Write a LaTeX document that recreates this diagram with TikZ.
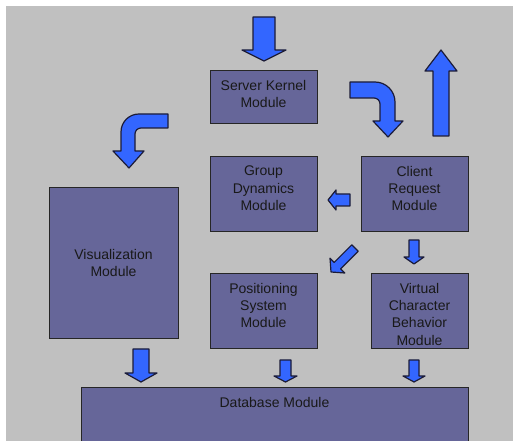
\documentclass[tikz,border=0pt]{standalone}
\usepackage{fontspec}
\setmainfont{Liberation Sans}
\usetikzlibrary{fit}
\definecolor{panel}{RGB}{192,192,192}
\definecolor{modfill}{RGB}{102,102,153}
\definecolor{arrowfill}{RGB}{51,102,255}
\definecolor{arrowline}{RGB}{28,28,56}
\tikzset{
  module/.style={draw=black!85, fill=modfill, line width=0.75pt, inner sep=0pt},
  caption/.style={anchor=north, align=center, inner sep=0pt, yshift=-7pt,
    text=black!90, font=\fontsize{10.5}{13}\selectfont},
  blockarrow/.style={fill=arrowfill, draw=arrowline, line width=0.9pt, line join=round}
}
\begin{document}
\begin{tikzpicture}[x=0.75pt, y=-0.75pt]
      \useasboundingbox (0,0) rectangle (514,441);
      \clip (0,0) rectangle (514,441);
      \fill[panel] (6,6) rectangle (513,441);
      % modules
      \node[module, fit={(210,71) (317,124)}, label={[caption]north:Server Kernel\\Module}] (kernel) {};
      \node[module, fit={(210,157) (317,232)}, label={[caption]north:Group\\Dynamics\\Module}] (group) {};
      \node[module, fit={(361,157) (468,232)}, label={[caption]north:Client\\Request\\Module}] (client) {};
      \node[module, fit={(49,188) (178,339)}, label={[caption, yshift=-39pt]north:Visualization\\Module}] (visual) {};
      \node[module, fit={(210,274) (317,349)}, label={[caption]north:Positioning\\System\\Module}] (position) {};
      \node[module, fit={(371,274) (468,349)}, label={[caption]north:Virtual\\Character\\Behavior\\Module}] (behavior) {};
      \node[module, fit={(81,388) (468,470)}, label={[caption]north:Database Module}] (database) {};
      % arrows
      \begin{scope}[blockarrow]
        \filldraw (253,17) -- (275,17) -- (275,50) -- (286,50) -- (264,61) -- (242,50) -- (253,50) -- cycle;
        \filldraw (433,136) -- (433,71) -- (425,71) -- (441,50) -- (457,71) -- (449,71) -- (449,136) -- cycle;
        \filldraw (350,82) -- (375,82) .. controls (386,82) and (395,91) .. (395,102) -- (395,121)
          -- (403,121) -- (388,137) -- (373,121) -- (380,121) -- (380,104)
          .. controls (380,100.7) and (377.3,98) .. (374,98) -- (350,98) -- cycle;
        \filldraw (168,114) -- (139,114) .. controls (129,114) and (121,122) .. (121,132) -- (121,151)
          -- (113,151) -- (129,168) -- (144,151) -- (135,151) -- (135,134)
          .. controls (135,130.7) and (137.7,128) .. (141,128) -- (168,128) -- cycle;
        \filldraw (350,194) -- (336,194) -- (336,190) -- (328,200) -- (336,210) -- (336,206) -- (350,206) -- cycle;
        \filldraw (351.8,244.8) -- (334.2,262.4) -- (330,258.2) -- (331,272) -- (344.8,273)
          -- (340.6,268.8) -- (358.2,251.2) -- cycle;
        \filldraw (409,240) -- (419,240) -- (419,257) -- (424,257) -- (414,264) -- (404,257) -- (409,257) -- cycle;
        \filldraw (133,349) -- (149,349) -- (149,373) -- (157,373) -- (141,382) -- (125,373) -- (133,373) -- cycle;
        \filldraw (280,360) -- (291,360) -- (291,376) -- (297,376) -- (285.5,382) -- (274,376) -- (280,376) -- cycle;
        \filldraw (409,360) -- (419,360) -- (419,376) -- (425,376) -- (414,382) -- (403,376) -- (409,376) -- cycle;
      \end{scope}
    \end{tikzpicture}
\end{document}
